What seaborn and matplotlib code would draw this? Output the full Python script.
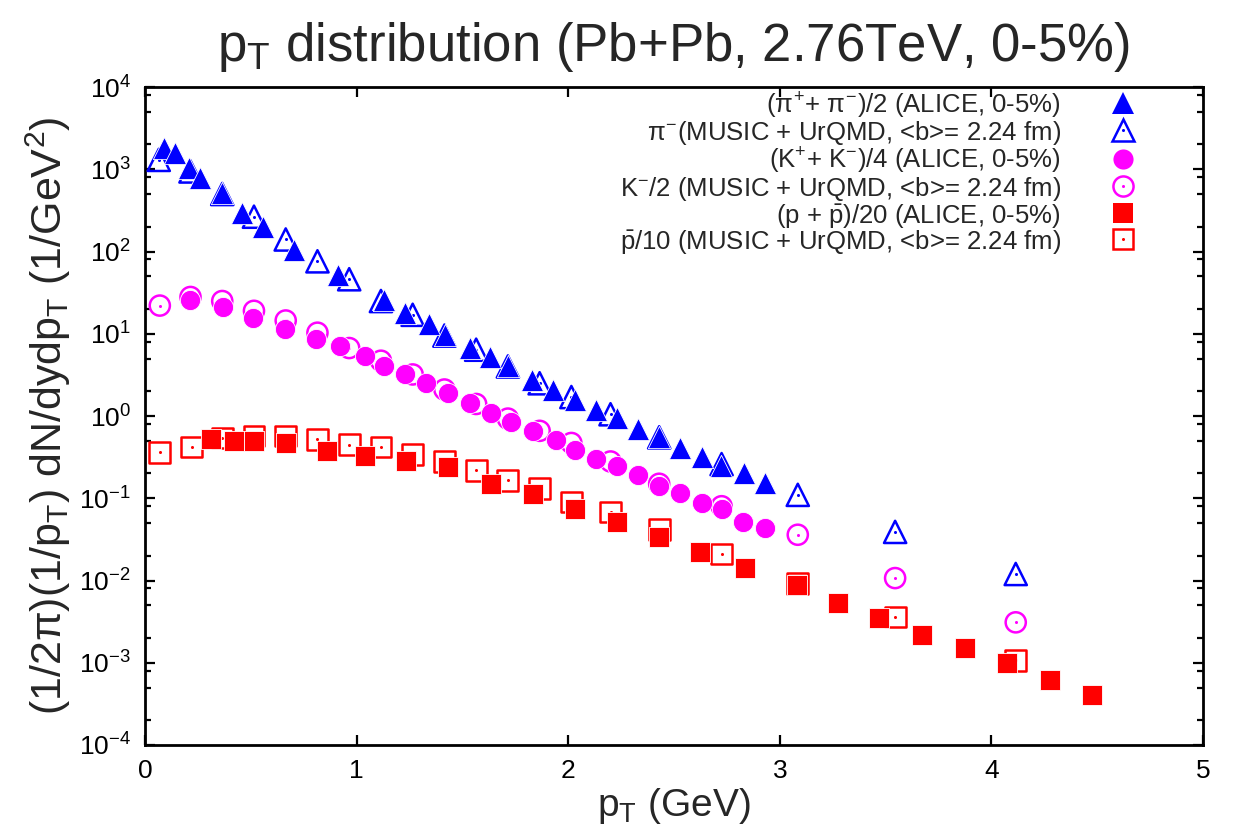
import numpy as np
import pandas as pd
import matplotlib
matplotlib.use("Agg")
import matplotlib.pyplot as plt
import seaborn as sns
from matplotlib.lines import Line2D
from matplotlib.ticker import LogLocator, FixedLocator, NullFormatter
from matplotlib.legend_handler import HandlerTuple

# ---------------- data ----------------
pi_alice_pt = [0.09, 0.14, 0.21, 0.26, 0.365, 0.46, 0.56, 0.705, 0.91, 1.13, 1.23, 1.34, 1.42,
               1.535, 1.63, 1.715, 1.83, 1.93, 2.03, 2.13, 2.23, 2.33, 2.43, 2.53, 2.63, 2.72,
               2.83, 2.93]
pi_alice_y = [1800, 1580, 1035, 780, 510, 295, 200, 105, 52, 26, 18, 13, 9.7,
              6.7, 5.2, 4.0, 2.75, 2.05, 1.57, 1.18, 0.94, 0.69, 0.56, 0.41, 0.32, 0.25,
              0.20, 0.153]

pi_music_pt = [0.065, 0.215, 0.365, 0.515, 0.665, 0.815, 0.965, 1.115, 1.265, 1.415, 1.565,
               1.715, 1.865, 2.015, 2.2, 2.43, 2.725, 3.085, 3.545, 4.115]
pi_music_y = [1300, 940, 500, 265, 140, 76, 46, 25, 17, 9.5, 6.4,
              4.0, 2.5, 1.7, 1.05, 0.55, 0.26, 0.11, 0.039, 0.012]

k_alice_pt = [0.215, 0.37, 0.51, 0.66, 0.81, 0.92, 1.04, 1.13, 1.23, 1.33, 1.43, 1.535, 1.635,
              1.73, 1.835, 1.94, 2.03, 2.13, 2.23, 2.33, 2.43, 2.53, 2.63, 2.725, 2.825, 2.93]
k_alice_y = [26, 21, 15.5, 11.5, 8.6, 7.0, 5.3, 4.1, 3.2, 2.5, 1.9, 1.44, 1.1,
             0.85, 0.66, 0.51, 0.39, 0.30, 0.25, 0.19, 0.14, 0.115, 0.087, 0.074, 0.051, 0.044]

k_music_pt = [0.07, 0.215, 0.365, 0.515, 0.665, 0.815, 0.965, 1.115, 1.265, 1.415, 1.565,
              1.715, 1.865, 2.015, 2.2, 2.43, 2.725, 3.085, 3.545, 4.115]
k_music_y = [22, 28, 25, 19, 14.5, 10.3, 6.7, 4.7, 3.2, 2.1, 1.4,
             0.93, 0.66, 0.47, 0.28, 0.15, 0.080, 0.036, 0.0107, 0.0031]

p_alice_pt = [0.31, 0.42, 0.515, 0.665, 0.86, 1.04, 1.235, 1.43, 1.635, 1.835, 2.03, 2.23, 2.43,
              2.625, 2.835, 3.08, 3.275, 3.47, 3.67, 3.875, 4.075, 4.275, 4.475]
p_alice_y = [0.52, 0.49, 0.50, 0.47, 0.38, 0.33, 0.28, 0.24, 0.15, 0.112, 0.073, 0.051, 0.034,
             0.022, 0.014, 0.0087, 0.0053, 0.0035, 0.0022, 0.0015, 0.00098, 0.00062, 0.00040]

p_music_pt = [0.07, 0.22, 0.365, 0.515, 0.665, 0.815, 0.965, 1.115, 1.265, 1.415, 1.565,
              1.715, 1.865, 2.015, 2.2, 2.43, 2.725, 3.085, 3.545, 4.115]
p_music_y = [0.36, 0.42, 0.54, 0.57, 0.57, 0.52, 0.45, 0.42, 0.34, 0.28, 0.22,
             0.165, 0.13, 0.09, 0.068, 0.042, 0.021, 0.0093, 0.0036, 0.00107]

labels = [
    r"($\pi^{+}$+ $\pi^{-}$)/2 (ALICE, 0-5%)",
    r"$\pi^{-}$(MUSIC + UrQMD, <b>= 2.24 fm)",
    r"(K$^{+}$+ K$^{-}$)/4 (ALICE, 0-5%)",
    r"K$^{-}$/2 (MUSIC + UrQMD, <b>= 2.24 fm)",
    r"(p + $\bar{\mathrm{p}}$)/20 (ALICE, 0-5%)",
    r"$\bar{\mathrm{p}}$/10 (MUSIC + UrQMD, <b>= 2.24 fm)",
]
xticks = [0, 1, 2, 3, 4, 5]

BLUE, MAG, RED = "#0000ff", "#ff00ff", "#ff0000"

# ---------------- style ----------------
sns.set_theme(style="ticks")
plt.rcParams['font.family'] = ['Liberation Sans', 'DejaVu Sans']
plt.rcParams['mathtext.fontset'] = 'custom'
plt.rcParams['mathtext.rm'] = 'Liberation Sans'
plt.rcParams['mathtext.it'] = 'Liberation Sans'
plt.rcParams['mathtext.sf'] = 'Liberation Sans'
plt.rcParams['mathtext.bf'] = 'Liberation Sans:bold'

fig = plt.figure(figsize=(12.36, 8.31), dpi=100)
ax = fig.add_axes([145/1236, 1 - 745/831, (1203-145)/1236, (745-87)/831])

MS_TRI, MS_CIR, MS_SQ = 16, 14.5, 15

def scat(x, y, marker, ms, color, filled, z):
    df = pd.DataFrame({"x": x, "y": y})
    sns.scatterplot(data=df, x="x", y="y", marker=marker, s=ms**2, ax=ax, zorder=z,
                    legend=False)
    coll = ax.collections[-1]
    if filled:
        coll.set_facecolor(color)
        coll.set_edgecolor("white")
        coll.set_linewidth(0.6)
    else:
        coll.set_facecolor("none")
        coll.set_edgecolor(color)
        coll.set_linewidth(1.8)
        sns.scatterplot(data=df, x="x", y="y", marker="o", s=2.2**2, ax=ax, zorder=z,
                        legend=False)
        d = ax.collections[-1]
        d.set_facecolor(color)
        d.set_edgecolor(color)
        d.set_linewidth(0)

scat(pi_music_pt, pi_music_y, "^", MS_TRI, BLUE, False, 3)
scat(pi_alice_pt, pi_alice_y, "^", MS_TRI, BLUE, True, 4)
scat(k_music_pt, k_music_y, "o", MS_CIR, MAG, False, 3)
scat(k_alice_pt, k_alice_y, "o", MS_CIR, MAG, True, 4)
scat(p_music_pt, p_music_y, "s", MS_SQ, RED, False, 3)
scat(p_alice_pt, p_alice_y, "s", MS_SQ, RED, True, 4)

ax.set_yscale("log")
ax.set_xlim(0, 5)
ax.set_ylim(1e-4, 1e4)
ax.xaxis.set_major_locator(FixedLocator(xticks))
ax.yaxis.set_major_locator(LogLocator(base=10, numticks=20))
ax.yaxis.set_minor_locator(LogLocator(base=10, subs=(2, 5, 8), numticks=20))
ax.yaxis.set_minor_formatter(NullFormatter())

for s in ax.spines.values():
    s.set_linewidth(2.0)
    s.set_color("black")
ax.tick_params(which="both", direction="in", top=True, right=True, colors="black")
ax.tick_params(which="major", length=7, width=1.6, labelsize=19, pad=10)
ax.tick_params(which="minor", length=4, width=1.6)
ax.tick_params(axis="x", which="minor", bottom=False, top=False)

ax.set_xlabel(r"$\mathregular{p_T}$ (GeV)", fontsize=28, labelpad=2)
ax.set_ylabel(r"(1/2π)(1/$\mathregular{p_T}$) dN/dydp$\mathregular{_T}$ (1/GeV$\mathregular{^2}$)",
              fontsize=31, labelpad=4)
ax.set_title(r"$\mathregular{p_T}$ distribution (Pb+Pb, 2.76TeV, 0-5%)", fontsize=38, pad=19)

# legend proxies
def filled(marker, ms, c):
    return Line2D([], [], ls="none", marker=marker, ms=ms, mfc=c, mec=c, mew=0)

def opened(marker, ms, c):
    return (Line2D([], [], ls="none", marker=marker, ms=ms, mfc="none", mec=c, mew=1.8),
            Line2D([], [], ls="none", marker="o", ms=2.2, mfc=c, mec=c, mew=0))

handles = [filled("^", MS_TRI, BLUE), opened("^", MS_TRI, BLUE),
           filled("o", MS_CIR, MAG), opened("o", MS_CIR, MAG),
           filled("s", MS_SQ, RED), opened("s", MS_SQ, RED)]
leg = ax.legend(handles, labels, loc="upper right", bbox_to_anchor=(0.935, 0.995),
                frameon=False, markerfirst=False, fontsize=18.5, handlelength=0.85,
                handleheight=1.0, labelspacing=-0.05, handletextpad=2.0,
                borderpad=0, borderaxespad=0,
                handler_map={tuple: HandlerTuple(ndivide=1, pad=0)})

fig.savefig("out.png", dpi=100)
